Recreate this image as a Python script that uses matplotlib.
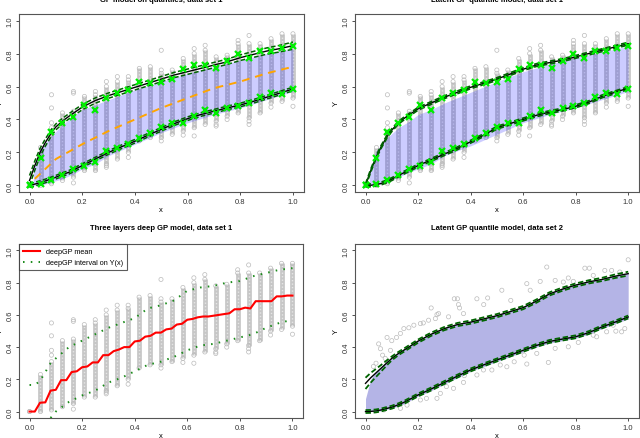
import numpy as np
import matplotlib
matplotlib.use("Agg")
import matplotlib.pyplot as plt

plt.rcParams['font.family'] = ['Liberation Sans', 'DejaVu Sans']

# data set 1: 25 design points, each with a dense column of replicates
col_x = np.arange(25) / 24.0
stripe_lo = [0.0, 0.0, 0.01, 0.03, 0.05, 0.09, 0.09, 0.13, 0.16, 0.20, 0.27, 0.29, 0.29,
             0.31, 0.33, 0.35, 0.37, 0.39, 0.42, 0.44, 0.41, 0.44, 0.50, 0.51, 0.53]
stripe_hi = [0.0, 0.23, 0.31, 0.44, 0.45, 0.54, 0.55, 0.60, 0.63, 0.64, 0.71, 0.72, 0.68,
             0.70, 0.77, 0.80, 0.82, 0.78, 0.79, 0.86, 0.86, 0.86, 0.89, 0.92, 0.92]
sparse_pts = {
    2: [0.35, 0.38, 0.47, 0.55],
    4: [0.015, 0.56, 0.57],
    6: [0.57],
    7: [0.11, 0.12, 0.63],
    8: [0.66],
    9: [0.17, 0.66],
    12: [0.27, 0.70, 0.82],
    14: [0.305],
    15: [0.30, 0.83],
    16: [0.85],
    17: [0.36, 0.37],
    18: [0.40],
    19: [0.88],
    20: [0.37, 0.39, 0.91],
    22: [0.475],
    24: [0.48],
}
# empirical quantiles (green crosses)
emp_up = [0.0, 0.169, 0.325, 0.376, 0.417, 0.486, 0.457, 0.528, 0.563, 0.58, 0.626, 0.62, 0.63,
          0.644, 0.707, 0.728, 0.73, 0.715, 0.752, 0.80, 0.776, 0.813, 0.813, 0.833, 0.848]
emp_lo = [0.0, 0.01, 0.03, 0.065, 0.10, 0.12, 0.14, 0.207, 0.224, 0.25, 0.285, 0.32, 0.352,
          0.376, 0.376, 0.423, 0.457, 0.44, 0.467, 0.484, 0.498, 0.535, 0.563, 0.553, 0.585]

# quantile curves grid
xq = [0, 0.02, 0.04, 0.06, 0.083, 0.1, 0.125, 0.15, 0.2, 0.25, 0.3, 0.35, 0.4, 0.45, 0.5,
      0.55, 0.6, 0.65, 0.7, 0.75, 0.8, 0.85, 0.9, 0.95, 1.0]

# GP model on quantiles
tl_up = [0.03, 0.12, 0.20, 0.26, 0.32, 0.355, 0.39, 0.42, 0.475, 0.515, 0.545, 0.57, 0.595,
         0.62, 0.645, 0.67, 0.69, 0.71, 0.73, 0.75, 0.775, 0.795, 0.815, 0.83, 0.848]
tl_up_hw = [0.03, 0.028, 0.025, 0.022, 0.02, 0.018, 0.017, 0.016, 0.016, 0.016, 0.016, 0.016,
            0.016, 0.016, 0.016, 0.016, 0.016, 0.016, 0.016, 0.016, 0.017, 0.018, 0.019, 0.02, 0.022]
tl_lo = [0.0, 0.008, 0.017, 0.027, 0.04, 0.05, 0.066, 0.08, 0.12, 0.16, 0.2, 0.235, 0.268,
         0.305, 0.34, 0.375, 0.405, 0.43, 0.45, 0.47, 0.488, 0.51, 0.535, 0.56, 0.585]
tl_lo_hw = 0.011
tl_mean_x = [0.02, 0.1, 0.2, 0.3, 0.4, 0.5, 0.6, 0.7, 0.8, 0.9, 1.0]
tl_mean_y = [0.04, 0.16, 0.25, 0.33, 0.40, 0.47, 0.53, 0.59, 0.63, 0.68, 0.72]

x_band = [0.015, 0.04, 0.083, 0.125, 0.167, 0.2, 0.25, 0.3, 0.4, 0.5, 0.6, 0.7, 0.8, 0.9, 1.0]
tl_band_hi = [0.10, 0.22, 0.30, 0.37, 0.42, 0.46, 0.49, 0.52, 0.58, 0.63, 0.68, 0.72, 0.76, 0.80, 0.83]
tl_band_lo = [0.0, 0.0, 0.02, 0.04, 0.07, 0.10, 0.13, 0.18, 0.25, 0.32, 0.38, 0.43, 0.47, 0.52, 0.57]

# latent GP quantile model, data set 1
tr_up = [0.0, 0.09, 0.17, 0.235, 0.30, 0.335, 0.38, 0.41, 0.465, 0.50, 0.535, 0.565, 0.595,
         0.62, 0.645, 0.675, 0.705, 0.73, 0.745, 0.76, 0.78, 0.80, 0.82, 0.84, 0.86]
tr_lo = [0.0, 0.001, 0.005, 0.012, 0.025, 0.038, 0.06, 0.08, 0.12, 0.155, 0.19, 0.225, 0.265,
         0.305, 0.35, 0.375, 0.40, 0.425, 0.445, 0.46, 0.48, 0.505, 0.54, 0.565, 0.59]
tr_hw = 0.008
tr_band_hi = [0.08, 0.21, 0.29, 0.35, 0.39, 0.43, 0.46, 0.50, 0.565, 0.63, 0.69, 0.735, 0.775, 0.81, 0.845]
tr_band_lo = [0.0, 0.0, 0.02, 0.05, 0.08, 0.10, 0.13, 0.18, 0.24, 0.31, 0.38, 0.43, 0.47, 0.52, 0.57]

# three layers deep GP
dgp_mean = [0.0, 0.0, 0.055, 0.057, 0.13, 0.135, 0.195, 0.195, 0.245, 0.25, 0.275, 0.28, 0.305,
            0.305, 0.35, 0.35, 0.375, 0.385, 0.40, 0.40, 0.435, 0.44, 0.465, 0.47, 0.49, 0.49,
            0.51, 0.515, 0.54, 0.545, 0.57, 0.575, 0.585, 0.59, 0.59, 0.595, 0.60, 0.605, 0.61,
            0.635, 0.635, 0.645, 0.64, 0.685, 0.685, 0.685, 0.685, 0.715, 0.715, 0.72, 0.72]
dgp_int_x = [0.0, 0.02, 0.04, 0.08, 0.1, 0.15, 0.2, 0.25, 0.3, 0.35, 0.4, 0.45, 0.5, 0.55,
             0.6, 0.65, 0.7, 0.75, 0.8, 0.85, 0.9, 0.95, 1.0]
dgp_int_hi = [0.165, 0.165, 0.19, 0.30, 0.33, 0.40, 0.44, 0.48, 0.52, 0.55, 0.58, 0.64, 0.66,
              0.69, 0.75, 0.77, 0.78, 0.80, 0.81, 0.84, 0.86, 0.88, 0.89]
dgp_int_lo = [np.nan, np.nan, np.nan, -0.04, 0.0, 0.06, 0.10, 0.13, 0.18, 0.21, 0.25, 0.29, 0.31,
              0.34, 0.38, 0.41, 0.42, 0.44, 0.46, 0.48, 0.52, 0.55, 0.57]

# latent GP quantile model, data set 2
br_up = [0.175, 0.21, 0.24, 0.27, 0.305, 0.33, 0.36, 0.385, 0.437, 0.48, 0.515, 0.54, 0.555,
         0.575, 0.595, 0.62, 0.645, 0.685, 0.73, 0.76, 0.785, 0.805, 0.82, 0.84, 0.856]
br_up_hw = [0.035, 0.03, 0.025, 0.02, 0.015, 0.012, 0.01, 0.01, 0.01, 0.01, 0.01, 0.01, 0.01,
            0.01, 0.01, 0.01, 0.01, 0.01, 0.01, 0.01, 0.01, 0.01, 0.01, 0.011, 0.012]
br_lo = [0.0, 0.001, 0.004, 0.01, 0.02, 0.027, 0.042, 0.06, 0.103, 0.14, 0.18, 0.22, 0.258,
         0.29, 0.32, 0.35, 0.38, 0.41, 0.435, 0.45, 0.464, 0.49, 0.525, 0.555, 0.587]
br_lo_hw = 0.009
br_cloud_hi = [0.08, 0.2, 0.25, 0.28, 0.31, 0.335, 0.365, 0.39, 0.44, 0.485, 0.52, 0.545, 0.56,
               0.58, 0.60, 0.625, 0.65, 0.69, 0.735, 0.765, 0.79, 0.81, 0.825, 0.845, 0.86]
br_cloud_lo = [0.0, 0.0, 0.0, 0.005, 0.015, 0.02, 0.035, 0.05, 0.095, 0.13, 0.17, 0.21, 0.25,
               0.28, 0.31, 0.34, 0.37, 0.40, 0.425, 0.44, 0.455, 0.48, 0.515, 0.545, 0.575]
br_out_x = [0.05, 0.057, 0.082, 0.10, 0.118, 0.095, 0.133, 0.146, 0.165, 0.184, 0.209, 0.22,
            0.24, 0.25, 0.272, 0.278, 0.266, 0.338, 0.35, 0.354, 0.358, 0.316, 0.373, 0.424,
            0.45, 0.465, 0.519, 0.553, 0.614, 0.665, 0.69, 0.722, 0.753, 0.772, 0.835, 0.852,
            0.911, 0.937, 1.0, 0.968, 0.627, 0.791, 0.867, 0.03, 0.04, 0.065, 0.075,
            0.07, 0.133, 0.158, 0.209, 0.232, 0.272, 0.285, 0.308, 0.335, 0.373, 0.376, 0.424,
            0.449, 0.481, 0.513, 0.538, 0.566, 0.604, 0.614, 0.652, 0.696, 0.722, 0.772, 0.81,
            0.867, 0.918, 0.953, 0.975, 0.987, 0.943, 0.88]
br_out_y = [0.42, 0.39, 0.46, 0.44, 0.46, 0.38, 0.485, 0.515, 0.52, 0.536, 0.546, 0.55,
            0.567, 0.643, 0.602, 0.608, 0.577, 0.70, 0.70, 0.664, 0.643, 0.588, 0.608, 0.70,
            0.664, 0.705, 0.753, 0.69, 0.794, 0.808, 0.897, 0.814, 0.804, 0.829, 0.89, 0.89,
            0.876, 0.876, 0.942, 0.866, 0.753, 0.808, 0.845, 0.28, 0.30, 0.35, 0.33,
            0.01, 0.02, 0.04, 0.072, 0.082, 0.082, 0.113, 0.155, 0.144, 0.181, 0.223, 0.227,
            0.258, 0.258, 0.289, 0.278, 0.309, 0.35, 0.295, 0.361, 0.305, 0.392, 0.402, 0.429,
            0.474, 0.495, 0.499, 0.495, 0.515, 0.536, 0.464]

W, H = 640, 439
fig = plt.figure(figsize=(W / 100, H / 100), dpi=100)


def make_ax(l, r, t, b):
    ax = fig.add_axes([l / W, 1 - b / H, (r - l) / W, (b - t) / H])
    ax.set_xlim(-0.04, 1.04)
    ax.set_ylim(-0.04, 1.04)
    ax.set_xticks([0, 0.2, 0.4, 0.6, 0.8, 1.0])
    ax.set_yticks([0, 0.2, 0.4, 0.6, 0.8, 1.0])
    ax.set_xticklabels(['0.0', '0.2', '0.4', '0.6', '0.8', '1.0'])
    ax.set_yticklabels(['0.0', '0.2', '0.4', '0.6', '0.8', '1.0'], rotation=90, va='center')
    ax.tick_params(length=2.5, width=0.6, pad=1.5, labelsize=5.5, colors='#333333')
    for s in ax.spines.values():
        s.set_color('#555555')
        s.set_linewidth(0.8)
    ax.set_xlabel('x', fontsize=5.5, labelpad=1)
    ax.set_ylabel('Y', fontsize=5.5, labelpad=2)
    return ax


def draw_points(ax):
    # dense replicate columns, then the sparse points around them
    ax.vlines(col_x, stripe_lo, stripe_hi, color='#c6c6c6', lw=3.4, zorder=1)
    ax.vlines(col_x, stripe_lo, stripe_hi, color='white', lw=1.0, alpha=0.55,
              linestyles=(0, (1, 1.5)), zorder=1)
    ax.scatter(col_x, stripe_lo, s=9, facecolors='none', edgecolors='#bbbbbb', lw=0.5, zorder=1)
    ax.scatter(col_x, stripe_hi, s=9, facecolors='none', edgecolors='#bbbbbb', lw=0.5, zorder=1)
    for k, ys in sparse_pts.items():
        ax.scatter([col_x[k]] * len(ys), ys, s=9, facecolors='none', edgecolors='#bbbbbb',
                   lw=0.5, zorder=1)


def quantile_curve(ax, y, hw, dash_lw=1.1):
    y = np.array(y)
    hw = np.array(hw) if np.ndim(hw) else hw
    ax.plot(xq, y, color='black', lw=1.0, zorder=4)
    ax.plot(xq, y + hw, color='#006400', lw=dash_lw, ls=(0, (3, 1.5)), zorder=4)
    ax.plot(xq, y - hw, color='#006400', lw=dash_lw, ls=(0, (3, 1.5)), zorder=4)


# top left
ax1 = make_ax(19, 303.5, 15, 193)
draw_points(ax1)
ax1.fill_between(x_band, tl_band_lo, tl_band_hi, color=(0, 0, 1, 0.2), lw=0, zorder=2)
ax1.plot(tl_mean_x, tl_mean_y, color='#ffa500', lw=1.4, ls=(0, (4, 3)), zorder=3)
quantile_curve(ax1, tl_up, tl_up_hw)
quantile_curve(ax1, tl_lo, tl_lo_hw)
ax1.plot(col_x, emp_up, 'x', color='#00ee00', ms=4, mew=1.6, zorder=5)
ax1.plot(col_x, emp_lo, 'x', color='#00ee00', ms=4, mew=1.6, zorder=5)
fig.text(161 / W, 1 - 0 / H, 'GP model on quantiles, data set 1', ha='center', va='center',
         fontsize=5.5, fontweight='bold')

# top right
ax2 = make_ax(355, 638.7, 15, 193)
draw_points(ax2)
ax2.fill_between(x_band, tr_band_lo, tr_band_hi, color=(0, 0, 1, 0.2), lw=0, zorder=2)
quantile_curve(ax2, tr_up, tr_hw, 1.3)
quantile_curve(ax2, tr_lo, tr_hw, 1.3)
ax2.plot(col_x, emp_up, 'x', color='#00ee00', ms=4, mew=1.6, zorder=5)
ax2.plot(col_x, emp_lo, 'x', color='#00ee00', ms=4, mew=1.6, zorder=5)
fig.text(497 / W, 1 - 0 / H, 'Latent GP quantile model, data set 1', ha='center', va='center',
         fontsize=5.5, fontweight='bold')

# bottom left
ax3 = make_ax(19, 303, 245, 419)
draw_points(ax3)
ax3.plot(np.linspace(0, 1, len(dgp_mean)), dgp_mean, color='red', lw=1.5, zorder=4,
         label='deepGP mean')
ax3.plot(dgp_int_x, dgp_int_hi, color='#1a8a1a', lw=1.4, ls=(0, (0.8, 3.2)), zorder=4,
         label='deepGP interval on Y(x)')
ax3.plot(dgp_int_x, dgp_int_lo, color='#1a8a1a', lw=1.4, ls=(0, (0.8, 3.2)), zorder=4)
leg = ax3.legend(loc='upper left', fontsize=5.2, frameon=True, fancybox=False,
                 borderaxespad=0, handlelength=2.3, borderpad=0.6, labelspacing=0.5,
                 handletextpad=0.8)
leg.get_frame().set_edgecolor('#333333')
leg.get_frame().set_linewidth(0.8)
fig.text(161 / W, 1 - 228 / H, 'Three layers deep GP model, data set 1', ha='center',
         va='center', fontsize=5.5, fontweight='bold')

# bottom right
ax4 = make_ax(355, 638.7, 245, 419)
ax4.fill_between(xq, br_cloud_lo, br_cloud_hi, color='#b4b4e6', lw=0, zorder=2)
ax4.scatter(br_out_x, br_out_y, s=9, facecolors='none', edgecolors='#bbbbbb', lw=0.5, zorder=1)
quantile_curve(ax4, br_up, br_up_hw, 1.3)
quantile_curve(ax4, br_lo, br_lo_hw, 1.3)
fig.text(497 / W, 1 - 228 / H, 'Latent GP quantile model, data set 2', ha='center',
         va='center', fontsize=5.5, fontweight='bold')

fig.savefig('out.png', dpi=100)
